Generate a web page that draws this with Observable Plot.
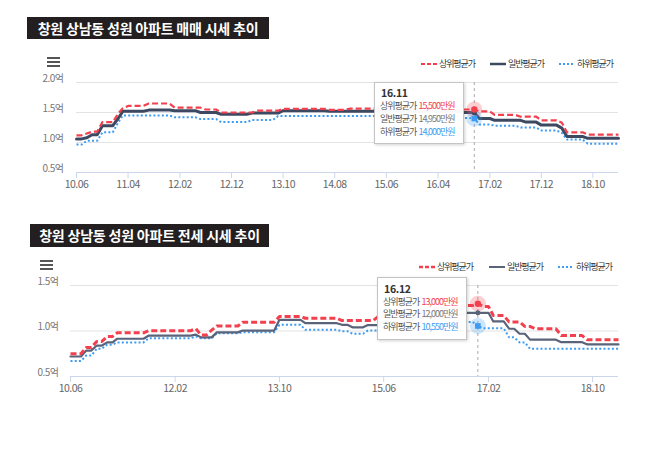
<!DOCTYPE html>
<html><head><meta charset="utf-8">
<script src="https://cdn.jsdelivr.net/npm/d3@7"></script>
<script src="https://cdn.jsdelivr.net/npm/@observablehq/plot@0.6"></script>
<style>
body{margin:0;background:#fff;font-family:"Noto Sans CJK KR",sans-serif;}
#wrap{position:relative;width:650px;height:449px;overflow:hidden;background:#fff;}
.title{position:absolute;background:#231f20;color:#fff;font-weight:bold;font-size:14px;text-align:center;letter-spacing:-0.2px;white-space:nowrap;}
.chart{position:absolute;left:0;}
.legend{position:absolute;font-size:9px;color:#333;letter-spacing:-1.1px;white-space:nowrap;}
.legend svg{position:absolute;top:0;display:block;}
.legend span{position:absolute;top:0;line-height:12px;}
.tip{position:absolute;background:rgba(255,255,255,0.96);border:1px solid #c4c4c4;box-shadow:1px 1px 3px rgba(0,0,0,0.18);font-size:9px;color:#555;letter-spacing:-1px;white-space:nowrap;box-sizing:border-box;}
.tip .h{position:absolute;left:6px;font-size:10.5px;line-height:11px;font-weight:bold;color:#333;letter-spacing:-0.3px;}
.tip .r{position:absolute;left:5px;line-height:11px;}
.tip .r span{margin-left:2px;}
.menu{position:absolute;line-height:0;}
.menu svg{display:block;}
</style></head>
<body><div id="wrap"></div>
<script>
// ---------- data ----------
const seriesNames = ["상위평균가", "일반평균가", "하위평균가"];

// 매매 (sale) — breakpoints [month "YY.MM", 만원]
const saleUpper = [["10.06",11200],["10.08",11500],["10.09",11800],["10.11",13400],["11.02",14800],["11.03",15700],["11.04",16100],["11.08",16500],["12.01",15800],["12.07",15500],["12.10",15000],["13.05",15300],["13.10",15600],["14.07",15450],["14.11",15650],["16.06",15500],["16.12",15200],["17.03",14600],["17.08",14300],["17.12",13700],["18.04",13300],["18.05",11700],["18.09",11300]];
const saleGeneral = [["10.06",10600],["10.08",10800],["10.09",11300],["10.11",12800],["11.02",14000],["11.03",15200],["11.08",15400],["12.01",15300],["12.06",15000],["12.10",14700],["13.04",14900],["13.10",15300],["14.07",15200],["16.09",15000],["16.11",14950],["16.12",14000],["17.03",13700],["17.09",13400],["17.12",12900],["18.04",12400],["18.05",11000],["18.09",10700]];
const saleLower = [["10.06",9650],["10.08",10300],["10.11",11700],["11.02",13300],["11.03",14500],["12.01",14200],["12.06",13900],["12.10",13400],["13.04",13750],["13.09",14400],["16.09",14100],["16.11",14000],["16.12",13000],["17.03",12800],["17.08",12500],["17.12",12000],["18.04",11600],["18.05",10500],["18.09",9800]];

// 전세 (jeonse)
const rentUpper = [["10.06",7500],["10.09",8200],["10.11",8850],["11.01",9400],["11.03",9800],["11.09",10030],["12.06",10250],["12.07",9550],["12.09",10100],["12.10",10550],["13.03",10970],["13.10",11590],["14.03",11400],["14.10",11150],["15.05",11600],["15.10",12000],["16.04",12500],["16.09",12800],["16.12",13000],["17.01",12700],["17.03",11700],["17.06",11000],["17.09",10500],["17.11",10250],["18.04",9500],["18.09",9030]];
const rentGeneral = [["10.06",7200],["10.09",7850],["10.11",8400],["11.01",8750],["11.03",9150],["11.09",9500],["12.06",9600],["12.07",9300],["12.10",9850],["13.03",10050],["13.10",11230],["14.03",10860],["14.10",10680],["14.12",10400],["15.03",10650],["15.06",11000],["15.12",11500],["16.06",11800],["16.10",12000],["17.03",11050],["17.06",10250],["17.08",9700],["17.10",9050],["18.04",8770],["18.09",8520]];
const rentLower = [["10.06",6700],["10.09",7300],["10.11",8050],["11.01",8500],["11.03",8750],["11.09",9200],["12.06",9400],["12.07",9200],["12.10",9750],["13.03",9870],["13.10",10680],["14.03",10130],["14.10",9980],["14.12",9700],["15.03",10050],["15.06",10300],["16.01",10800],["16.09",11000],["16.12",10550],["17.01",10300],["17.06",9300],["17.08",8750],["17.10",8050]];

const xStart = "10.06", xEnd = "19.03";
const saleXTicks = ["10.06","11.04","12.02","12.12","13.10","14.08","15.06","16.04","17.02","17.12","18.10"];
const rentXTicks = ["10.06","12.02","13.10","15.06","17.02","18.10"];
const saleYTicks = [5000, 10000, 15000, 20000];
const rentYTicks = [5000, 10000, 15000];

const saleHoverDate = "16.11";
const saleHoverValues = [15500, 14950, 14000];
const rentHoverDate = "16.12";
const rentHoverValues = [13000, 12000, 10550];

const saleTitle = "창원 상남동 성원 아파트 매매 시세 추이";
const rentTitle = "창원 상남동 성원 아파트 전세 시세 추이";

// ---------- helpers ----------
const parse = s => { const [y, m] = s.split(".").map(Number); return new Date(Date.UTC(2000 + y, m - 1, 1)); };
const fmtX = d3.utcFormat("%y.%m");
const fmtY = d => (d / 10000).toFixed(1) + "억";
const END = parse(xEnd);
function expand(pairs) {
  const out = [];
  pairs.forEach(([s, v], i) => {
    const d = parse(s);
    out.push({date: d, v});
    const e = i + 1 < pairs.length ? d3.utcMonth.offset(parse(pairs[i + 1][0]), -1) : END;
    if (e > d) out.push({date: e, v});
  });
  return out;
}
const RED = "#f2404e", BLUE = "#3d9cf2";

function makeChart(o) {
  const hd = parse(o.hoverDate);
  const [hu, hg, hl] = o.hoverValues;
  return Plot.plot({
    width: 650, height: 125,
    marginLeft: o.ml, marginRight: 32, marginTop: 12, marginBottom: o.mb,
    style: {fontFamily: "'Noto Sans CJK KR', sans-serif", fontSize: "10.5px", background: "transparent", overflow: "visible", letterSpacing: "-0.5px"},
    x: {type: "utc", domain: [parse(xStart), END], label: null},
    y: {domain: [o.yTicks[0], o.yTicks[o.yTicks.length - 1]], label: null},
    marks: [
      Plot.gridY(o.yTicks.slice(1), {stroke: "#e3e3e3", strokeOpacity: 1}),
      Plot.axisY(o.yTicks, {label: null, tickSize: 0, tickPadding: o.ml - o.labelEnd, tickFormat: fmtY, dy: -4, fill: "#777", fontSize: 10}),
      Plot.ruleY([o.yTicks[0]], {stroke: "#ccd6eb"}),
      Plot.axisX(o.xTicks.map(parse), {label: null, tickFormat: fmtX, tickSize: 6, tickPadding: 2, stroke: "#ccd6eb", strokeOpacity: 1, fill: "#666"}),
      Plot.line(expand(o.lower), {x: "date", y: "v", stroke: BLUE, strokeWidth: o.lw, strokeDasharray: "2,2.2", strokeLinecap: "butt"}),
      Plot.line(expand(o.general), {x: "date", y: "v", stroke: o.navy, strokeWidth: o.gw}),
      Plot.line(expand(o.upper), {x: "date", y: "v", stroke: RED, strokeWidth: o.uw, strokeDasharray: "6,3", strokeLinecap: "butt"}),
      Plot.ruleX([hd], {stroke: "#aaa", strokeDasharray: "3,3", strokeWidth: 1}),
      Plot.dot([{d: hd, v: hu}], {x: "d", y: "v", r: 8, fill: RED, fillOpacity: 0.25}),
      Plot.dot([{d: hd, v: hl}], {x: "d", y: "v", r: 8, fill: BLUE, fillOpacity: 0.25}),
      Plot.dot([{d: hd, v: hg}], {x: "d", y: "v", r: 2.5, fill: o.navy}),
      Plot.dot([{d: hd, v: hu}], {x: "d", y: "v", r: 3.2, fill: RED}),
      Plot.dot([{d: hd, v: hl}], {x: "d", y: "v", r: 3.2, fill: BLUE, symbol: "square"})
    ]
  });
}

const wrap = document.getElementById("wrap");
function addTitle(text, l, t, w, h) {
  const d = document.createElement("div");
  d.className = "title";
  Object.assign(d.style, {left: l + "px", top: t + "px", width: w + "px", height: h + "px", lineHeight: h + "px"});
  d.textContent = text;
  wrap.appendChild(d);
}
function addMenu(l, t) {
  const d = document.createElement("div");
  d.className = "menu";
  Object.assign(d.style, {left: l + "px", top: t + "px"});
  d.innerHTML = '<svg width="14" height="10"><rect x="0" y="0" width="13" height="2" fill="#555"/><rect x="0" y="4" width="13" height="2" fill="#555"/><rect x="0" y="8" width="13" height="2" fill="#555"/></svg>';
  wrap.appendChild(d);
}
function addLegend(t, xs, navy, uw, gw) {
  const d = document.createElement("div");
  d.className = "legend";
  Object.assign(d.style, {left: "0px", top: t + "px", width: "650px", height: "12px"});
  const samples = [
    `<line x1="0" y1="6" x2="16" y2="6" stroke="${RED}" stroke-width="${uw}" stroke-dasharray="4,2"/>`,
    `<line x1="0" y1="6" x2="16" y2="6" stroke="${navy}" stroke-width="${gw}"/>`,
    `<line x1="0" y1="6" x2="16" y2="6" stroke="${BLUE}" stroke-width="2" stroke-dasharray="2,2"/>`
  ];
  let html = "";
  seriesNames.forEach((n, i) => {
    html += `<svg width="16" height="12" style="left:${xs[i]}px">${samples[i]}</svg><span style="left:${xs[i] + 18}px">${n}</span>`;
  });
  d.innerHTML = html;
  wrap.appendChild(d);
}
function addTip(l, t, w, h, date, vals, rowsY, headY) {
  const d = document.createElement("div");
  d.className = "tip";
  Object.assign(d.style, {left: l + "px", top: t + "px", width: w + "px", height: h + "px"});
  const cols = [RED, "#777", BLUE];
  let html = `<div class="h" style="top:${headY}px">${date}</div>`;
  seriesNames.forEach((n, i) => {
    html += `<div class="r" style="top:${rowsY[i]}px">${n}<span style="color:${cols[i]}">${d3.format(",")(vals[i])}만원</span></div>`;
  });
  d.innerHTML = html;
  wrap.appendChild(d);
}

// ---------- chart 1 ----------
addTitle(saleTitle, 27, 17, 242, 22);
addMenu(47, 57);
addLegend(58, [421, 490, 559], "#3d4960", 2, 2.5);
const c1 = makeChart({ml: 76, mb: 23, labelEnd: 63, yTicks: saleYTicks, xTicks: saleXTicks, upper: saleUpper, general: saleGeneral, lower: saleLower, hoverDate: saleHoverDate, hoverValues: saleHoverValues, navy: "#3d4960", uw: 2.2, gw: 3, lw: 2});
c1.classList.add("chart"); c1.style.top = "70px";
wrap.appendChild(c1);
addTip(374, 82, 90, 62, saleHoverDate, saleHoverValues, [17, 30, 43], 4);

// ---------- chart 2 ----------
addTitle(rentTitle, 30, 224, 239, 23);
addMenu(40, 260);
addLegend(261, [419, 489, 558], "#59637a", 2.5, 2);
const c2 = makeChart({ml: 70, mb: 22, labelEnd: 58, yTicks: rentYTicks, xTicks: rentXTicks, upper: rentUpper, general: rentGeneral, lower: rentLower, hoverDate: rentHoverDate, hoverValues: rentHoverValues, navy: "#59637a", uw: 3, gw: 2.2, lw: 2});
c2.classList.add("chart"); c2.style.top = "273px";
wrap.appendChild(c2);
addTip(377, 277, 90, 63, rentHoverDate, rentHoverValues, [18, 30, 43], 5);
</script></body></html>
